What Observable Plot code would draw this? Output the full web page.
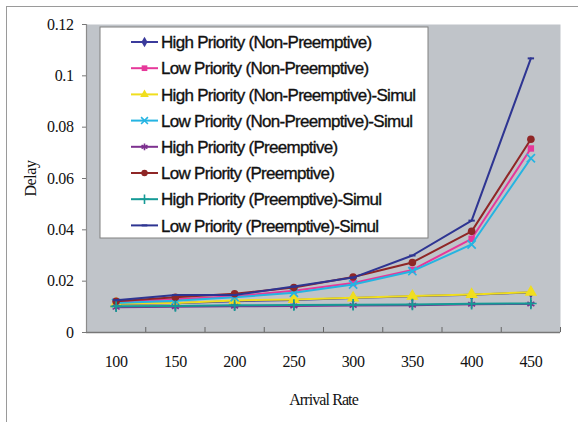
<!DOCTYPE html>
<html><head><meta charset="utf-8">
<script src="https://cdn.jsdelivr.net/npm/d3@7"></script>
<script src="https://cdn.jsdelivr.net/npm/@observablehq/plot@0.6"></script>
<style>
body{margin:0;background:#fff;overflow:hidden;width:578px;height:422px}
#frame{position:absolute;left:6px;top:6px;width:800px;height:800px;border-left:1.5px solid #9a9a9a;border-top:1.5px solid #9a9a9a;box-sizing:border-box}
#chart{position:absolute;left:0;top:0}
</style></head>
<body>
<div id="frame"></div>
<div id="chart"></div>
<script>
// ---- data ----
const xValues = [100, 150, 200, 250, 300, 350, 400, 450];
const xTickLabels = ["100", "150", "200", "250", "300", "350", "400", "450"];
const xBounds = [125, 175, 225, 275, 325, 375, 425, 475];
const yTicks = [0, 0.02, 0.04, 0.06, 0.08, 0.1, 0.12];
const yTickLabels = ["0", "0.02", "0.04", "0.06", "0.08", "0.1", "0.12"];

const seriesNames = [
  "High Priority (Non-Preemptive)",
  "Low Priority (Non-Preemptive)",
  "High Priority (Non-Preemptive)-Simul",
  "Low Priority (Non-Preemptive)-Simul",
  "High Priority (Preemptive)",
  "Low Priority (Preemptive)",
  "High Priority (Preemptive)-Simul",
  "Low Priority (Preemptive)-Simul"
];
const highNP    = [0.0111, 0.0114, 0.0122, 0.0127, 0.0134, 0.0141, 0.0147, 0.0156];
const lowNP     = [0.0120, 0.0130, 0.0141, 0.0163, 0.0193, 0.0244, 0.0365, 0.0717];
const highNPSim = [0.0112, 0.0115, 0.0125, 0.0129, 0.0135, 0.0142, 0.0148, 0.0157];
const lowNPSim  = [0.0115, 0.0124, 0.0137, 0.0155, 0.0187, 0.0239, 0.0343, 0.0679];
const highP     = [0.0098, 0.0100, 0.0102, 0.0103, 0.0105, 0.0106, 0.0110, 0.0111];
const lowP      = [0.0122, 0.0137, 0.0151, 0.0175, 0.0216, 0.0273, 0.0394, 0.0753];
const highPSim  = [0.0102, 0.0103, 0.0106, 0.0107, 0.0108, 0.0109, 0.0112, 0.0113];
const lowPSim   = [0.0126, 0.0146, 0.0146, 0.0179, 0.0214, 0.0300, 0.0436, 0.1068];
const seriesValues = [highNP, lowNP, highNPSim, lowNPSim, highP, lowP, highPSim, lowPSim];

// ---- styles ----
const colors = ["#3b3b9c", "#e6389a", "#f0de1e", "#25b4e2", "#7d318f", "#8f2626", "#159a96", "#2e3592"];
const dash = {draw(ctx, size) { const w = Math.sqrt(size) * 1.0; ctx.rect(-w / 2, -1, w, 2); }};
const symbols = [d3.symbolDiamond, d3.symbolSquare, d3.symbolTriangle, d3.symbolTimes,
                 d3.symbolAsterisk, d3.symbolCircle, d3.symbolPlus, dash];
const filled = [true, true, true, false, false, true, false, true];
const dotR = [3.6, 3.6, 4.6, 3.8, 3.8, 3.8, 3.8, 3.6];

const W = 578, H = 422, mL = 86, mR = 18, mT = 24, mB = 90;
const plotH = H - mT - mB;

const rows = [];
seriesNames.forEach((name, s) => xValues.forEach((x, i) => rows.push({s, name, x, y: seriesValues[s][i]})));

const marks = [
  Plot.frame({fill: "#c0c4c9", stroke: null}),
  Plot.ruleX([75], {stroke: "#8c8c8c", strokeWidth: 1.2}),
  Plot.ruleY([0], {stroke: "#777", strokeWidth: 1.5}),
  Plot.ruleX(xBounds, {stroke: "#666", strokeWidth: 1, insetTop: plotH - 5}),
  Plot.axisX({ticks: xValues, tickSize: 0, tickPadding: 23,
    tickFormat: d => xTickLabels[xValues.indexOf(d)],
    label: "Arrival Rate", labelAnchor: "center", labelOffset: 72, labelArrow: "none"}),
  Plot.axisY({ticks: yTicks, tickSize: 4, tickPadding: 9, stroke: "#777",
    tickFormat: d => yTickLabels[yTicks.indexOf(d)],
    label: "Delay", labelAnchor: "center", labelOffset: 62, labelArrow: "none"})
];
seriesNames.forEach((name, s) => {
  const data = rows.filter(r => r.s === s);
  marks.push(Plot.line(data, {x: "x", y: "y", stroke: colors[s], strokeWidth: 2}));
  marks.push(Plot.dot(data, {x: "x", y: "y", symbol: symbols[s], r: dotR[s],
    fill: filled[s] ? colors[s] : "none", stroke: filled[s] ? "none" : colors[s], strokeWidth: 1.7}));
});

const chart = Plot.plot({
  width: W, height: H, marginLeft: mL, marginRight: mR, marginTop: mT, marginBottom: mB,
  style: {background: "transparent", fontFamily: "'Liberation Serif', 'Times New Roman', serif", fontSize: "16px", color: "#111"},
  x: {type: "linear", domain: [75, 475]},
  y: {domain: [0, 0.12]},
  marks
});
d3.select(chart).selectAll("text").attr("letter-spacing", "-0.4px");
d3.select(chart).selectAll("text").filter(function() { return this.textContent === "Arrival Rate"; }).attr("letter-spacing", "-0.9px");
document.getElementById("chart").appendChild(chart);

// ---- legend ----
const svg = d3.select(chart);
const lg = svg.append("g").attr("transform", "translate(100,27)").attr("text-anchor", "start");
lg.append("rect").attr("width", 328).attr("height", 211).attr("fill", "#fff").attr("stroke", "#808080").attr("stroke-width", 1);
seriesNames.forEach((name, s) => {
  const y = 15 + s * 26.2;
  const g = lg.append("g").attr("transform", `translate(0,${y})`);
  g.append("line").attr("x1", 31).attr("x2", 58).attr("y1", 0).attr("y2", 0).attr("stroke", colors[s]).attr("stroke-width", 2);
  g.append("path").attr("transform", "translate(44.5,0)")
    .attr("d", d3.symbol(symbols[s], Math.PI * 3.2 * 3.2)())
    .attr("fill", filled[s] ? colors[s] : "none").attr("stroke", filled[s] ? "none" : colors[s]).attr("stroke-width", 1.6);
  g.append("text").attr("x", 61).attr("dy", "0.36em").attr("text-anchor", "start").text(name)
    .attr("font-family", "'Liberation Sans', Arial, sans-serif").attr("font-size", 17)
    .attr("letter-spacing", "-0.7px").attr("fill", "#111")
    .attr("stroke", "#111").attr("stroke-width", 0.35);
});
</script>
</body></html>
